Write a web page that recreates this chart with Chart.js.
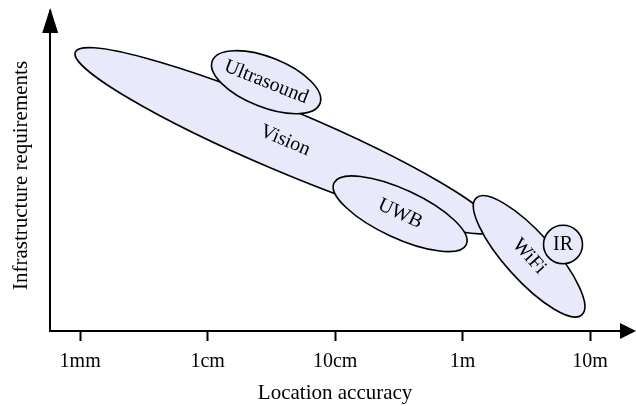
<!DOCTYPE html>
<html>
<head>
<meta charset="utf-8">
<script src="https://cdn.jsdelivr.net/npm/chart.js@4/dist/chart.umd.min.js"></script>
<style>
  html, body { margin: 0; padding: 0; background: #fff; }
  #wrap { width: 636px; height: 406px; position: relative; }
</style>
</head>
<body>
<div id="wrap"><canvas id="techChart"></canvas></div>
<script>
// Technologies, placed by location accuracy (log10 of metres) and infrastructure needs (0-100)
const techs = ["Vision", "Ultrasound", "UWB", "WiFi", "IR"];
const accCenter = [-1.392, -1.541, -0.490, 0.522, 0.788];
const infraCenter = [61.2, 80.0, 37.7, 24.0, 27.8];
// end of the long axis of each region
const accTip = [0.254, -1.119, 0.029, 0.936, 0.941];
const infraTip = [32.7, 73.1, 27.8, 5.2, 27.8];
// half width of each region across its long axis (infrastructure units)
const spread = [9.9, 8.0, 7.8, 7.7, 6.2];

const tickValues = [-3, -2, -1, 0, 1];
const tickLabels = ["1mm", "1cm", "10cm", "1m", "10m"];

Chart.defaults.font.family = "'Liberation Serif', 'DejaVu Serif', serif";
Chart.defaults.font.size = 20;
Chart.defaults.color = "#000";

const regionPlugin = {
    id: "regions",
    afterDatasetsDraw(chart) {
        const { ctx, scales: { x, y } } = chart;
        const unit = Math.abs(y.getPixelForValue(0) - y.getPixelForValue(1));
        techs.forEach((name, i) => {
            const cx = x.getPixelForValue(accCenter[i]);
            const cy = y.getPixelForValue(infraCenter[i]);
            const tx = x.getPixelForValue(accTip[i]);
            const ty = y.getPixelForValue(infraTip[i]);
            const a = Math.hypot(tx - cx, ty - cy);
            const b = spread[i] * unit;
            const angle = Math.atan2(ty - cy, tx - cx);

            ctx.save();
            ctx.beginPath();
            ctx.ellipse(cx, cy, a, b, angle, 0, Math.PI * 2);
            ctx.fillStyle = "#e9e9fc";
            ctx.fill();
            ctx.lineWidth = 1.6;
            ctx.strokeStyle = "#000";
            ctx.stroke();

            ctx.translate(cx, cy);
            ctx.rotate(angle);
            ctx.fillStyle = "#000";
            ctx.font = "20px 'Liberation Serif', serif";
            ctx.textAlign = "center";
            ctx.textBaseline = "middle";
            ctx.fillText(name, 0, 0);
            ctx.restore();
        });
    },
    afterDraw(chart) {
        // arrow heads on both axes
        const { ctx, chartArea } = chart;
        ctx.save();
        ctx.fillStyle = "#000";
        ctx.strokeStyle = "#000";
        ctx.lineWidth = 2;
        ctx.beginPath();
        ctx.moveTo(chartArea.left, chartArea.top);
        ctx.lineTo(chartArea.left, chartArea.top - 10);
        ctx.stroke();
        ctx.beginPath();
        ctx.moveTo(chartArea.left, chartArea.top - 12);
        ctx.lineTo(chartArea.left - 8, chartArea.top + 13);
        ctx.lineTo(chartArea.left + 8, chartArea.top + 13);
        ctx.closePath();
        ctx.fill();
        ctx.beginPath();
        ctx.moveTo(chartArea.right + 16, chartArea.bottom);
        ctx.lineTo(chartArea.right, chartArea.bottom - 8);
        ctx.lineTo(chartArea.right, chartArea.bottom + 8);
        ctx.closePath();
        ctx.fill();
        ctx.restore();
    },
};

new Chart(document.getElementById("techChart"), {
    type: "scatter",
    data: {
        datasets: [
            {
                data: techs.map((t, i) => ({ x: accCenter[i], y: infraCenter[i] })),
                pointRadius: 0,
            },
        ],
    },
    options: {
        responsive: true,
        maintainAspectRatio: false,
        animation: false,
        layout: {
            padding: { left: 9, right: 16, top: 20, bottom: 0 },
        },
        scales: {
            x: {
                type: "linear",
                min: -3.235,
                max: 1.235,
                afterBuildTicks: (scale) => {
                    scale.ticks = tickValues.map((v) => ({ value: v }));
                },
                ticks: {
                    padding: 9,
                    maxRotation: 0,
                    autoSkip: false,
                    callback: (value, index) => tickLabels[index],
                },
                grid: {
                    drawOnChartArea: false,
                    drawTicks: true,
                    tickLength: 10,
                    tickWidth: 2,
                    color: "#000",
                },
                border: { color: "#000", width: 2 },
                title: {
                    display: true,
                    text: "Location accuracy",
                    font: { size: 21, lineHeight: 1 },
                    padding: { top: 0, bottom: 2 },
                },
            },
            y: {
                type: "linear",
                min: 0,
                max: 100,
                ticks: { display: false },
                grid: { drawOnChartArea: false, drawTicks: false },
                border: { color: "#000", width: 2 },
                title: {
                    display: true,
                    text: "Infrastructure requirements",
                    font: { size: 21 },
                    padding: { top: 0, bottom: 16 },
                },
            },
        },
        plugins: {
            legend: { display: false },
            tooltip: { enabled: false },
        },
    },
    plugins: [regionPlugin],
});
</script>
</body>
</html>
